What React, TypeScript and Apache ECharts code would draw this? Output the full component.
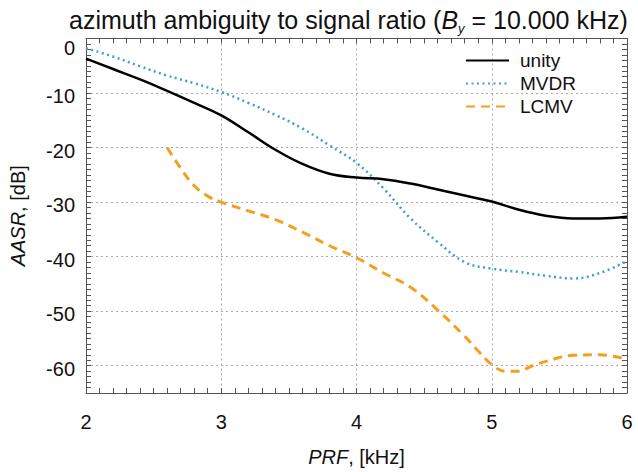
import React, { useEffect, useRef } from "react";
import * as echarts from "echarts";

const prf = [2.0, 2.2, 2.4, 2.6, 2.8, 3.0, 3.2, 3.4, 3.6, 3.8, 4.0, 4.2, 4.4, 4.6, 4.8, 5.0, 5.2, 5.4, 5.6, 5.8, 6.0];
const unity = [-3.7, -5.6, -7.5, -9.6, -11.8, -14.1, -17.2, -20.4, -23.0, -24.8, -25.5, -25.8, -26.6, -27.7, -28.8, -29.9, -31.4, -32.5, -33.0, -33.0, -32.7];
const mvdr = [-1.8, -3.3, -5.1, -6.8, -8.2, -9.8, -11.8, -14.0, -16.5, -19.6, -22.8, -27.5, -33.0, -37.3, -41.0, -42.2, -42.8, -43.5, -44.0, -43.0, -40.8];
const prfLcmv = [2.6, 2.7, 2.8, 2.9, 3.0, 3.2, 3.4, 3.6, 3.8, 4.0, 4.2, 4.4, 4.6, 4.8, 4.9, 5.0, 5.1, 5.2, 5.3, 5.4, 5.6, 5.8, 6.0];
const lcmv = [-20.0, -23.8, -27.0, -28.9, -30.0, -31.6, -33.2, -35.5, -38.0, -40.2, -43.0, -45.6, -49.8, -54.6, -57.3, -59.8, -61.0, -61.0, -60.0, -59.2, -58.1, -58.0, -58.8];
const seriesNames = ["unity", "MVDR", "LCMV"];

const FONT = "Liberation Sans";

export default function App() {
  const ref = useRef<HTMLDivElement>(null);
  useEffect(() => {
    if (!ref.current) return;
    const chart = echarts.init(ref.current, null, { renderer: "svg" });
    const axisCommon = {
      axisLine: { show: true, onZero: false, lineStyle: { color: "#555", width: 1 } },
      axisTick: { show: true, inside: true, length: 5, lineStyle: { color: "#555" } },
      minorTick: { show: true, length: 5, lineStyle: { color: "#555" } },
    };
    chart.setOption({
      animation: false,
      backgroundColor: "#fff",
      title: {
        text: "{n|azimuth ambiguity to signal ratio (}{i|B}{s|y}{n| = 10.000 kHz)}",
        left: 64,
        top: 0,
        textStyle: {
          fontWeight: "normal",
          rich: {
            n: { fontFamily: FONT, fontSize: 25, fontWeight: "normal", color: "#111", lineHeight: 30, verticalAlign: "middle" },
            i: { fontFamily: FONT, fontSize: 25, fontWeight: "normal", color: "#111", fontStyle: "italic", lineHeight: 30, verticalAlign: "middle" },
            s: { fontFamily: FONT, fontSize: 13, fontWeight: "normal", color: "#111", fontStyle: "italic", lineHeight: 30, verticalAlign: "bottom" },
          },
        },
      },
      grid: { left: 83, right: 11, top: 38.5, bottom: 79, containLabel: false },
      legend: {
        data: seriesNames,
        orient: "vertical",
        left: 460,
        top: 46,
        itemWidth: 43,
        itemHeight: 14,
        itemGap: 4,
        itemStyle: { opacity: 0, borderWidth: 0 },
        textStyle: { fontFamily: FONT, fontSize: 19, color: "#111", padding: [0, 0, 0, 6] },
      },
      xAxis: [
        {
          type: "value",
          min: 2,
          max: 6,
          interval: 1,
          ...axisCommon,
          minorTick: { ...axisCommon.minorTick, splitNumber: 10 },
          splitLine: { show: true, lineStyle: { color: "#aaa", type: [2, 3], width: 1 } },
          axisLabel: { fontFamily: FONT, fontSize: 20, color: "#111", margin: 19 },
          name: "{i|PRF}{n|, [kHz]}",
          nameLocation: "middle",
          nameGap: 54,
          nameTextStyle: {
            rich: {
              i: { fontFamily: FONT, fontSize: 20, fontStyle: "italic", color: "#111" },
              n: { fontFamily: FONT, fontSize: 20, color: "#111" },
            },
          },
        },
        {
          type: "value",
          position: "top",
          min: 2,
          max: 6,
          interval: 1,
          ...axisCommon,
          minorTick: { ...axisCommon.minorTick, splitNumber: 10 },
          splitLine: { show: false },
          axisLabel: { show: false },
        },
      ],
      yAxis: [
        {
          type: "value",
          min: -65,
          max: 0,
          interval: 5,
          ...axisCommon,
          minorTick: { ...axisCommon.minorTick, splitNumber: 5 },
          splitLine: { show: true, lineStyle: { color: ["rgba(0,0,0,0)", "#aaa"], type: [2, 3], width: 1 } },
          axisLabel: {
            fontFamily: FONT,
            fontSize: 20,
            color: "#111",
            margin: 11,
            formatter: (v: number) => (v === 0 ? "{t|0}" : v % 10 === 0 ? "{a|" + v + "}" : ""),
            rich: {
              a: { fontFamily: FONT, fontSize: 20, color: "#111", padding: [6, 0, 0, 0] },
              t: { fontFamily: FONT, fontSize: 20, color: "#111", padding: [18, 0, 0, 0] },
            },
          },
          name: "{i|AASR}{n|, [dB]}",
          nameLocation: "middle",
          nameGap: 58,
          nameRotate: 90,
          nameTextStyle: {
            rich: {
              i: { fontFamily: FONT, fontSize: 20, fontStyle: "italic", color: "#111" },
              n: { fontFamily: FONT, fontSize: 20, color: "#111" },
            },
          },
        },
        {
          type: "value",
          position: "right",
          min: -65,
          max: 0,
          interval: 5,
          ...axisCommon,
          minorTick: { ...axisCommon.minorTick, splitNumber: 5 },
          splitLine: { show: false },
          axisLabel: { show: false },
        },
      ],
      series: [
        {
          name: "unity",
          type: "line",
          data: prf.map((x, i) => [x, unity[i]]),
          smooth: 0.4,
          showSymbol: false,
          symbol: "none",
          lineStyle: { color: "#000", width: 2.5, type: "solid" },
          itemStyle: { color: "#000" },
          z: 5,
        },
        {
          name: "MVDR",
          type: "line",
          data: prf.map((x, i) => [x, mvdr[i]]),
          smooth: 0.4,
          showSymbol: false,
          symbol: "none",
          lineStyle: { color: "#3d9be3", width: 2.5, type: [2, 3.5] },
          itemStyle: { color: "#3d9be3" },
          z: 4,
        },
        {
          name: "LCMV",
          type: "line",
          data: prfLcmv.map((x, i) => [x, lcmv[i]]),
          smooth: 0.4,
          showSymbol: false,
          symbol: "none",
          lineStyle: { color: "#f2a01e", width: 3, type: [9, 6] },
          itemStyle: { color: "#f2a01e" },
          z: 3,
        },
      ],
    });
    return () => chart.dispose();
  }, []);
  return <div ref={ref} style={{ position: "absolute", left: 0, top: 0, width: 638, height: 472 }} />;
}
